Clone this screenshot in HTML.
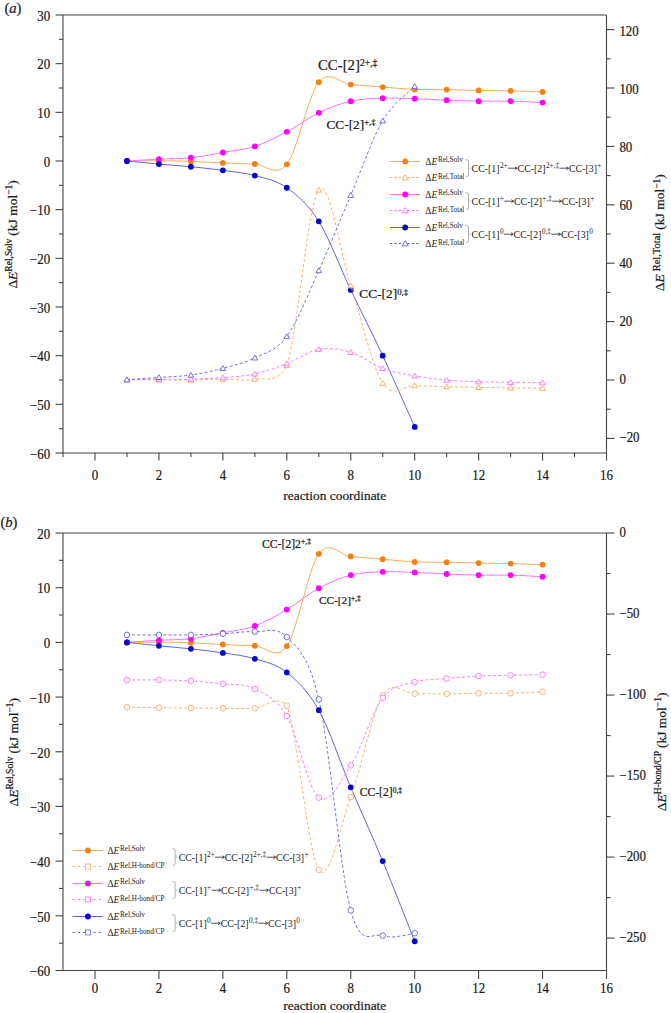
<!DOCTYPE html><html><head><meta charset="utf-8"><style>html,body{margin:0;padding:0;background:#fff;width:671px;height:1013px;overflow:hidden;position:relative} .b{stroke:#1a1a1a;stroke-width:0.22px;paint-order:stroke}</style></head><body><svg width="671" height="1013" viewBox="0 0 671 1013" style="position:absolute;left:0;top:0" font-family='"Liberation Serif", serif' fill="#1a1a1a">
<rect width="671" height="1013" fill="#fff"/>
<text x="4.40" y="12.50" font-size="14.60" text-anchor="start"  class="b">(<tspan font-style="italic">a</tspan>)</text>
<line x1="63.00" y1="15.00" x2="606.50" y2="15.00" stroke="#444" stroke-width="1.10"/>
<line x1="63.00" y1="453.00" x2="606.50" y2="453.00" stroke="#444" stroke-width="1.10"/>
<line x1="63.00" y1="15.00" x2="63.00" y2="453.00" stroke="#444" stroke-width="1.10"/>
<line x1="606.50" y1="15.00" x2="606.50" y2="453.00" stroke="#444" stroke-width="1.10"/>
<line x1="95.00" y1="453.00" x2="95.00" y2="460.50" stroke="#444" stroke-width="1.10"/>
<g transform="translate(95.00,479.60) scale(0.920,1)"><text class="b" x="0" y="0" font-size="14.00" text-anchor="middle">0</text></g>
<line x1="158.94" y1="453.00" x2="158.94" y2="460.50" stroke="#444" stroke-width="1.10"/>
<g transform="translate(158.94,479.60) scale(0.920,1)"><text class="b" x="0" y="0" font-size="14.00" text-anchor="middle">2</text></g>
<line x1="222.88" y1="453.00" x2="222.88" y2="460.50" stroke="#444" stroke-width="1.10"/>
<g transform="translate(222.88,479.60) scale(0.920,1)"><text class="b" x="0" y="0" font-size="14.00" text-anchor="middle">4</text></g>
<line x1="286.82" y1="453.00" x2="286.82" y2="460.50" stroke="#444" stroke-width="1.10"/>
<g transform="translate(286.82,479.60) scale(0.920,1)"><text class="b" x="0" y="0" font-size="14.00" text-anchor="middle">6</text></g>
<line x1="350.76" y1="453.00" x2="350.76" y2="460.50" stroke="#444" stroke-width="1.10"/>
<g transform="translate(350.76,479.60) scale(0.920,1)"><text class="b" x="0" y="0" font-size="14.00" text-anchor="middle">8</text></g>
<line x1="414.70" y1="453.00" x2="414.70" y2="460.50" stroke="#444" stroke-width="1.10"/>
<g transform="translate(414.70,479.60) scale(0.920,1)"><text class="b" x="0" y="0" font-size="14.00" text-anchor="middle">10</text></g>
<line x1="478.64" y1="453.00" x2="478.64" y2="460.50" stroke="#444" stroke-width="1.10"/>
<g transform="translate(478.64,479.60) scale(0.920,1)"><text class="b" x="0" y="0" font-size="14.00" text-anchor="middle">12</text></g>
<line x1="542.58" y1="453.00" x2="542.58" y2="460.50" stroke="#444" stroke-width="1.10"/>
<g transform="translate(542.58,479.60) scale(0.920,1)"><text class="b" x="0" y="0" font-size="14.00" text-anchor="middle">14</text></g>
<line x1="606.52" y1="453.00" x2="606.52" y2="460.50" stroke="#444" stroke-width="1.10"/>
<g transform="translate(606.52,479.60) scale(0.920,1)"><text class="b" x="0" y="0" font-size="14.00" text-anchor="middle">16</text></g>
<line x1="63.03" y1="453.00" x2="63.03" y2="457.00" stroke="#444" stroke-width="1.10"/>
<line x1="126.97" y1="453.00" x2="126.97" y2="457.00" stroke="#444" stroke-width="1.10"/>
<line x1="190.91" y1="453.00" x2="190.91" y2="457.00" stroke="#444" stroke-width="1.10"/>
<line x1="254.85" y1="453.00" x2="254.85" y2="457.00" stroke="#444" stroke-width="1.10"/>
<line x1="318.79" y1="453.00" x2="318.79" y2="457.00" stroke="#444" stroke-width="1.10"/>
<line x1="382.73" y1="453.00" x2="382.73" y2="457.00" stroke="#444" stroke-width="1.10"/>
<line x1="446.67" y1="453.00" x2="446.67" y2="457.00" stroke="#444" stroke-width="1.10"/>
<line x1="510.61" y1="453.00" x2="510.61" y2="457.00" stroke="#444" stroke-width="1.10"/>
<line x1="574.55" y1="453.00" x2="574.55" y2="457.00" stroke="#444" stroke-width="1.10"/>
<line x1="55.50" y1="453.00" x2="63.00" y2="453.00" stroke="#444" stroke-width="1.10"/>
<g transform="translate(50.20,458.80) scale(0.920,1)"><text class="b" x="0" y="0" font-size="14.00" text-anchor="end">−60</text></g>
<line x1="55.50" y1="404.33" x2="63.00" y2="404.33" stroke="#444" stroke-width="1.10"/>
<g transform="translate(50.20,410.13) scale(0.920,1)"><text class="b" x="0" y="0" font-size="14.00" text-anchor="end">−50</text></g>
<line x1="55.50" y1="355.67" x2="63.00" y2="355.67" stroke="#444" stroke-width="1.10"/>
<g transform="translate(50.20,361.47) scale(0.920,1)"><text class="b" x="0" y="0" font-size="14.00" text-anchor="end">−40</text></g>
<line x1="55.50" y1="307.00" x2="63.00" y2="307.00" stroke="#444" stroke-width="1.10"/>
<g transform="translate(50.20,312.80) scale(0.920,1)"><text class="b" x="0" y="0" font-size="14.00" text-anchor="end">−30</text></g>
<line x1="55.50" y1="258.33" x2="63.00" y2="258.33" stroke="#444" stroke-width="1.10"/>
<g transform="translate(50.20,264.13) scale(0.920,1)"><text class="b" x="0" y="0" font-size="14.00" text-anchor="end">−20</text></g>
<line x1="55.50" y1="209.67" x2="63.00" y2="209.67" stroke="#444" stroke-width="1.10"/>
<g transform="translate(50.20,215.47) scale(0.920,1)"><text class="b" x="0" y="0" font-size="14.00" text-anchor="end">−10</text></g>
<line x1="55.50" y1="161.00" x2="63.00" y2="161.00" stroke="#444" stroke-width="1.10"/>
<g transform="translate(50.20,166.80) scale(0.920,1)"><text class="b" x="0" y="0" font-size="14.00" text-anchor="end">0</text></g>
<line x1="55.50" y1="112.33" x2="63.00" y2="112.33" stroke="#444" stroke-width="1.10"/>
<g transform="translate(50.20,118.13) scale(0.920,1)"><text class="b" x="0" y="0" font-size="14.00" text-anchor="end">10</text></g>
<line x1="55.50" y1="63.67" x2="63.00" y2="63.67" stroke="#444" stroke-width="1.10"/>
<g transform="translate(50.20,69.47) scale(0.920,1)"><text class="b" x="0" y="0" font-size="14.00" text-anchor="end">20</text></g>
<line x1="55.50" y1="15.00" x2="63.00" y2="15.00" stroke="#444" stroke-width="1.10"/>
<g transform="translate(50.20,20.80) scale(0.920,1)"><text class="b" x="0" y="0" font-size="14.00" text-anchor="end">30</text></g>
<line x1="59.00" y1="428.67" x2="63.00" y2="428.67" stroke="#444" stroke-width="1.10"/>
<line x1="59.00" y1="380.00" x2="63.00" y2="380.00" stroke="#444" stroke-width="1.10"/>
<line x1="59.00" y1="331.33" x2="63.00" y2="331.33" stroke="#444" stroke-width="1.10"/>
<line x1="59.00" y1="282.67" x2="63.00" y2="282.67" stroke="#444" stroke-width="1.10"/>
<line x1="59.00" y1="234.00" x2="63.00" y2="234.00" stroke="#444" stroke-width="1.10"/>
<line x1="59.00" y1="185.33" x2="63.00" y2="185.33" stroke="#444" stroke-width="1.10"/>
<line x1="59.00" y1="136.67" x2="63.00" y2="136.67" stroke="#444" stroke-width="1.10"/>
<line x1="59.00" y1="88.00" x2="63.00" y2="88.00" stroke="#444" stroke-width="1.10"/>
<line x1="59.00" y1="39.33" x2="63.00" y2="39.33" stroke="#444" stroke-width="1.10"/>
<line x1="606.50" y1="438.40" x2="614.50" y2="438.40" stroke="#444" stroke-width="1.10"/>
<g transform="translate(619.40,441.71) scale(0.920,1)"><text class="b" x="0" y="0" font-size="14.00" text-anchor="start">−20</text></g>
<line x1="606.50" y1="380.00" x2="614.50" y2="380.00" stroke="#444" stroke-width="1.10"/>
<g transform="translate(619.40,383.70) scale(0.920,1)"><text class="b" x="0" y="0" font-size="14.00" text-anchor="start">0</text></g>
<line x1="606.50" y1="321.60" x2="614.50" y2="321.60" stroke="#444" stroke-width="1.10"/>
<g transform="translate(619.40,325.69) scale(0.920,1)"><text class="b" x="0" y="0" font-size="14.00" text-anchor="start">20</text></g>
<line x1="606.50" y1="263.20" x2="614.50" y2="263.20" stroke="#444" stroke-width="1.10"/>
<g transform="translate(619.40,267.68) scale(0.920,1)"><text class="b" x="0" y="0" font-size="14.00" text-anchor="start">40</text></g>
<line x1="606.50" y1="204.80" x2="614.50" y2="204.80" stroke="#444" stroke-width="1.10"/>
<g transform="translate(619.40,209.68) scale(0.920,1)"><text class="b" x="0" y="0" font-size="14.00" text-anchor="start">60</text></g>
<line x1="606.50" y1="146.40" x2="614.50" y2="146.40" stroke="#444" stroke-width="1.10"/>
<g transform="translate(619.40,151.67) scale(0.920,1)"><text class="b" x="0" y="0" font-size="14.00" text-anchor="start">80</text></g>
<line x1="606.50" y1="88.00" x2="614.50" y2="88.00" stroke="#444" stroke-width="1.10"/>
<g transform="translate(619.40,93.66) scale(0.920,1)"><text class="b" x="0" y="0" font-size="14.00" text-anchor="start">100</text></g>
<line x1="606.50" y1="29.60" x2="614.50" y2="29.60" stroke="#444" stroke-width="1.10"/>
<g transform="translate(619.40,35.65) scale(0.920,1)"><text class="b" x="0" y="0" font-size="14.00" text-anchor="start">120</text></g>
<line x1="606.50" y1="409.20" x2="610.50" y2="409.20" stroke="#444" stroke-width="1.10"/>
<line x1="606.50" y1="350.80" x2="610.50" y2="350.80" stroke="#444" stroke-width="1.10"/>
<line x1="606.50" y1="292.40" x2="610.50" y2="292.40" stroke="#444" stroke-width="1.10"/>
<line x1="606.50" y1="234.00" x2="610.50" y2="234.00" stroke="#444" stroke-width="1.10"/>
<line x1="606.50" y1="175.60" x2="610.50" y2="175.60" stroke="#444" stroke-width="1.10"/>
<line x1="606.50" y1="117.20" x2="610.50" y2="117.20" stroke="#444" stroke-width="1.10"/>
<line x1="606.50" y1="58.80" x2="610.50" y2="58.80" stroke="#444" stroke-width="1.10"/>
<text x="334.80" y="500.00" font-size="13.40" text-anchor="middle"  class="b">reaction coordinate</text>
<path d="M126.97,161.00 C132.30,160.96 148.28,160.69 158.94,160.76 C169.60,160.82 180.25,161.03 190.91,161.39 C201.57,161.75 212.22,162.46 222.88,162.90 C233.54,163.34 244.19,163.78 254.85,164.02 C265.51,164.25 276.16,177.95 286.82,164.31 C297.48,150.67 308.13,95.45 318.79,82.16 C329.45,68.87 340.10,83.78 350.76,84.59 C361.42,85.40 372.07,86.22 382.73,87.03 C393.39,87.84 404.04,89.03 414.70,89.46 C425.36,89.89 436.01,89.44 446.67,89.61 C457.33,89.77 467.98,90.21 478.64,90.43 C489.30,90.65 499.95,90.68 510.61,90.92 C521.27,91.16 537.25,91.73 542.58,91.89" fill="none" stroke="#f8ac5e" stroke-width="1.00"/>
<circle cx="126.97" cy="161.00" r="2.90" fill="#f5800f"/>
<circle cx="158.94" cy="160.76" r="2.90" fill="#f5800f"/>
<circle cx="190.91" cy="161.39" r="2.90" fill="#f5800f"/>
<circle cx="222.88" cy="162.90" r="2.90" fill="#f5800f"/>
<circle cx="254.85" cy="164.02" r="2.90" fill="#f5800f"/>
<circle cx="286.82" cy="164.31" r="2.90" fill="#f5800f"/>
<circle cx="318.79" cy="82.16" r="2.90" fill="#f5800f"/>
<circle cx="350.76" cy="84.59" r="2.90" fill="#f5800f"/>
<circle cx="382.73" cy="87.03" r="2.90" fill="#f5800f"/>
<circle cx="414.70" cy="89.46" r="2.90" fill="#f5800f"/>
<circle cx="446.67" cy="89.61" r="2.90" fill="#f5800f"/>
<circle cx="478.64" cy="90.43" r="2.90" fill="#f5800f"/>
<circle cx="510.61" cy="90.92" r="2.90" fill="#f5800f"/>
<circle cx="542.58" cy="91.89" r="2.90" fill="#f5800f"/>
<path d="M126.97,161.00 C132.30,160.69 148.28,159.70 158.94,159.15 C169.60,158.60 180.25,158.80 190.91,157.69 C201.57,156.58 212.22,154.37 222.88,152.48 C233.54,150.60 244.19,149.85 254.85,146.40 C265.51,142.95 276.16,137.40 286.82,131.80 C297.48,126.20 308.13,117.93 318.79,112.82 C329.45,107.71 340.10,103.57 350.76,101.14 C361.42,98.71 372.07,98.63 382.73,98.22 C393.39,97.81 404.04,98.38 414.70,98.71 C425.36,99.03 436.01,99.76 446.67,100.17 C457.33,100.57 467.98,100.98 478.64,101.14 C489.30,101.30 499.95,100.90 510.61,101.14 C521.27,101.38 537.25,102.36 542.58,102.60" fill="none" stroke="#ff6eff" stroke-width="1.00"/>
<circle cx="126.97" cy="161.00" r="2.90" fill="#ff00ff"/>
<circle cx="158.94" cy="159.15" r="2.90" fill="#ff00ff"/>
<circle cx="190.91" cy="157.69" r="2.90" fill="#ff00ff"/>
<circle cx="222.88" cy="152.48" r="2.90" fill="#ff00ff"/>
<circle cx="254.85" cy="146.40" r="2.90" fill="#ff00ff"/>
<circle cx="286.82" cy="131.80" r="2.90" fill="#ff00ff"/>
<circle cx="318.79" cy="112.82" r="2.90" fill="#ff00ff"/>
<circle cx="350.76" cy="101.14" r="2.90" fill="#ff00ff"/>
<circle cx="382.73" cy="98.22" r="2.90" fill="#ff00ff"/>
<circle cx="414.70" cy="98.71" r="2.90" fill="#ff00ff"/>
<circle cx="446.67" cy="100.17" r="2.90" fill="#ff00ff"/>
<circle cx="478.64" cy="101.14" r="2.90" fill="#ff00ff"/>
<circle cx="510.61" cy="101.14" r="2.90" fill="#ff00ff"/>
<circle cx="542.58" cy="102.60" r="2.90" fill="#ff00ff"/>
<path d="M126.97,161.00 C132.30,161.51 148.28,163.11 158.94,164.07 C169.60,165.02 180.25,165.70 190.91,166.74 C201.57,167.79 212.22,168.87 222.88,170.34 C233.54,171.82 244.19,172.70 254.85,175.60 C265.51,178.50 276.16,180.14 286.82,187.77 C297.48,195.39 308.13,204.31 318.79,221.35 C329.45,238.38 340.10,267.58 350.76,289.97 C361.42,312.35 372.07,332.84 382.73,355.67 C393.39,378.50 409.37,415.08 414.70,426.97" fill="none" stroke="#6464dc" stroke-width="1.00"/>
<circle cx="126.97" cy="161.00" r="2.90" fill="#0808c8"/>
<circle cx="158.94" cy="164.07" r="2.90" fill="#0808c8"/>
<circle cx="190.91" cy="166.74" r="2.90" fill="#0808c8"/>
<circle cx="222.88" cy="170.34" r="2.90" fill="#0808c8"/>
<circle cx="254.85" cy="175.60" r="2.90" fill="#0808c8"/>
<circle cx="286.82" cy="187.77" r="2.90" fill="#0808c8"/>
<circle cx="318.79" cy="221.35" r="2.90" fill="#0808c8"/>
<circle cx="350.76" cy="289.97" r="2.90" fill="#0808c8"/>
<circle cx="382.73" cy="355.67" r="2.90" fill="#0808c8"/>
<circle cx="414.70" cy="426.97" r="2.90" fill="#0808c8"/>
<path d="M126.97,379.71 C132.30,379.76 148.28,379.95 158.94,380.00 C169.60,380.05 180.25,380.15 190.91,380.00 C201.57,379.85 212.22,379.27 222.88,379.12 C233.54,378.98 244.19,381.41 254.85,379.12 C265.51,376.84 276.16,384.87 286.82,365.40 C297.48,333.86 308.13,203.19 318.79,189.91 C329.45,176.62 340.10,253.47 350.76,285.68 C361.42,317.90 372.07,366.57 382.73,383.21 C393.39,399.86 404.04,384.96 414.70,385.55 C425.36,386.13 436.01,386.42 446.67,386.72 C457.33,387.01 467.98,387.11 478.64,387.30 C489.30,387.49 499.95,387.74 510.61,387.88 C521.27,388.03 537.25,388.13 542.58,388.18" fill="none" stroke="#f8ac5e" stroke-width="0.90" stroke-dasharray="3,2.2"/>
<path d="M126.97,377.05 L129.92,381.89 L124.02,381.89 Z" fill="#fff" stroke="#f8ac5e" stroke-width="0.90"/>
<path d="M158.94,377.34 L161.89,382.18 L155.99,382.18 Z" fill="#fff" stroke="#f8ac5e" stroke-width="0.90"/>
<path d="M190.91,377.34 L193.86,382.18 L187.96,382.18 Z" fill="#fff" stroke="#f8ac5e" stroke-width="0.90"/>
<path d="M222.88,376.46 L225.83,381.30 L219.93,381.30 Z" fill="#fff" stroke="#f8ac5e" stroke-width="0.90"/>
<path d="M254.85,376.46 L257.80,381.30 L251.90,381.30 Z" fill="#fff" stroke="#f8ac5e" stroke-width="0.90"/>
<path d="M286.82,362.74 L289.77,367.58 L283.87,367.58 Z" fill="#fff" stroke="#f8ac5e" stroke-width="0.90"/>
<path d="M318.79,187.25 L321.74,192.09 L315.84,192.09 Z" fill="#fff" stroke="#f8ac5e" stroke-width="0.90"/>
<path d="M350.76,283.02 L353.71,287.86 L347.81,287.86 Z" fill="#fff" stroke="#f8ac5e" stroke-width="0.90"/>
<path d="M382.73,380.55 L385.68,385.39 L379.78,385.39 Z" fill="#fff" stroke="#f8ac5e" stroke-width="0.90"/>
<path d="M414.70,382.89 L417.65,387.73 L411.75,387.73 Z" fill="#fff" stroke="#f8ac5e" stroke-width="0.90"/>
<path d="M446.67,384.06 L449.62,388.89 L443.72,388.89 Z" fill="#fff" stroke="#f8ac5e" stroke-width="0.90"/>
<path d="M478.64,384.64 L481.59,389.48 L475.69,389.48 Z" fill="#fff" stroke="#f8ac5e" stroke-width="0.90"/>
<path d="M510.61,385.22 L513.56,390.06 L507.66,390.06 Z" fill="#fff" stroke="#f8ac5e" stroke-width="0.90"/>
<path d="M542.58,385.52 L545.53,390.35 L539.63,390.35 Z" fill="#fff" stroke="#f8ac5e" stroke-width="0.90"/>
<path d="M126.97,379.71 C132.30,379.61 148.28,379.22 158.94,379.12 C169.60,379.03 180.25,379.37 190.91,379.12 C201.57,378.88 212.22,378.54 222.88,377.66 C233.54,376.79 244.19,376.20 254.85,373.87 C265.51,371.53 276.16,367.74 286.82,363.65 C297.48,359.56 308.13,351.24 318.79,349.34 C329.45,347.44 340.10,349.10 350.76,352.26 C361.42,355.42 372.07,364.38 382.73,368.32 C393.39,372.26 404.04,373.97 414.70,375.91 C425.36,377.86 436.01,379.03 446.67,380.00 C457.33,380.97 467.98,381.36 478.64,381.75 C489.30,382.14 499.95,382.19 510.61,382.34 C521.27,382.48 537.25,382.58 542.58,382.63" fill="none" stroke="#ff6eff" stroke-width="0.90" stroke-dasharray="3,2.2"/>
<path d="M126.97,377.05 L129.92,381.89 L124.02,381.89 Z" fill="#fff" stroke="#ff6eff" stroke-width="0.90"/>
<path d="M158.94,376.46 L161.89,381.30 L155.99,381.30 Z" fill="#fff" stroke="#ff6eff" stroke-width="0.90"/>
<path d="M190.91,376.46 L193.86,381.30 L187.96,381.30 Z" fill="#fff" stroke="#ff6eff" stroke-width="0.90"/>
<path d="M222.88,375.00 L225.83,379.84 L219.93,379.84 Z" fill="#fff" stroke="#ff6eff" stroke-width="0.90"/>
<path d="M254.85,371.21 L257.80,376.05 L251.90,376.05 Z" fill="#fff" stroke="#ff6eff" stroke-width="0.90"/>
<path d="M286.82,360.99 L289.77,365.83 L283.87,365.83 Z" fill="#fff" stroke="#ff6eff" stroke-width="0.90"/>
<path d="M318.79,346.68 L321.74,351.52 L315.84,351.52 Z" fill="#fff" stroke="#ff6eff" stroke-width="0.90"/>
<path d="M350.76,349.60 L353.71,354.44 L347.81,354.44 Z" fill="#fff" stroke="#ff6eff" stroke-width="0.90"/>
<path d="M382.73,365.66 L385.68,370.50 L379.78,370.50 Z" fill="#fff" stroke="#ff6eff" stroke-width="0.90"/>
<path d="M414.70,373.25 L417.65,378.09 L411.75,378.09 Z" fill="#fff" stroke="#ff6eff" stroke-width="0.90"/>
<path d="M446.67,377.34 L449.62,382.18 L443.72,382.18 Z" fill="#fff" stroke="#ff6eff" stroke-width="0.90"/>
<path d="M478.64,379.09 L481.59,383.93 L475.69,383.93 Z" fill="#fff" stroke="#ff6eff" stroke-width="0.90"/>
<path d="M510.61,379.68 L513.56,384.51 L507.66,384.51 Z" fill="#fff" stroke="#ff6eff" stroke-width="0.90"/>
<path d="M542.58,379.97 L545.53,384.81 L539.63,384.81 Z" fill="#fff" stroke="#ff6eff" stroke-width="0.90"/>
<path d="M126.97,379.71 C132.30,379.32 148.28,378.15 158.94,377.37 C169.60,376.59 180.25,376.54 190.91,375.04 C201.57,373.53 212.22,371.19 222.88,368.32 C233.54,365.45 244.19,363.11 254.85,357.81 C265.51,352.50 276.16,351.04 286.82,336.49 C297.48,321.94 308.13,294.05 318.79,270.50 C329.45,246.95 340.10,220.13 350.76,195.16 C361.42,170.20 372.07,138.86 382.73,120.70 C393.39,102.55 409.37,91.99 414.70,86.25" fill="none" stroke="#6464dc" stroke-width="0.90" stroke-dasharray="3,2.2"/>
<path d="M126.97,377.05 L129.92,381.89 L124.02,381.89 Z" fill="#fff" stroke="#6464dc" stroke-width="0.90"/>
<path d="M158.94,374.71 L161.89,379.55 L155.99,379.55 Z" fill="#fff" stroke="#6464dc" stroke-width="0.90"/>
<path d="M190.91,372.38 L193.86,377.21 L187.96,377.21 Z" fill="#fff" stroke="#6464dc" stroke-width="0.90"/>
<path d="M222.88,365.66 L225.83,370.50 L219.93,370.50 Z" fill="#fff" stroke="#6464dc" stroke-width="0.90"/>
<path d="M254.85,355.15 L257.80,359.99 L251.90,359.99 Z" fill="#fff" stroke="#6464dc" stroke-width="0.90"/>
<path d="M286.82,333.83 L289.77,338.67 L283.87,338.67 Z" fill="#fff" stroke="#6464dc" stroke-width="0.90"/>
<path d="M318.79,267.84 L321.74,272.68 L315.84,272.68 Z" fill="#fff" stroke="#6464dc" stroke-width="0.90"/>
<path d="M350.76,192.50 L353.71,197.34 L347.81,197.34 Z" fill="#fff" stroke="#6464dc" stroke-width="0.90"/>
<path d="M382.73,118.04 L385.68,122.88 L379.78,122.88 Z" fill="#fff" stroke="#6464dc" stroke-width="0.90"/>
<path d="M414.70,83.59 L417.65,88.43 L411.75,88.43 Z" fill="#fff" stroke="#6464dc" stroke-width="0.90"/>
<line x1="389.90" y1="161.50" x2="420.00" y2="161.50" stroke="#f8ac5e" stroke-width="1.00"/>
<circle cx="405.20" cy="161.50" r="2.90" fill="#f5800f"/>
<line x1="389.90" y1="177.50" x2="420.00" y2="177.50" stroke="#f8ac5e" stroke-width="1" stroke-dasharray="2.4,2"/>
<path d="M405.20,174.61 L408.40,179.86 L402.00,179.86 Z" fill="#fff" stroke="#f8ac5e" stroke-width="0.90"/>
<text x="425.30" y="164.80" font-size="9.50">Δ<tspan font-style="italic">E</tspan></text>
<text x="437.90" y="162.30" font-size="7.20">Rel,Solv</text>
<text x="425.30" y="181.20" font-size="9.50">Δ<tspan font-style="italic">E</tspan></text>
<text x="437.90" y="178.70" font-size="7.20">Rel,Total</text>
<path d="M465.50,159.50 L468.50,160.50 V175.70 L465.90,176.70 M468.50,168.10 H470.50" fill="none" stroke="#aaa" stroke-width="0.9"/>
<text x="471.60" y="171.70" font-size="9.90">CC-[1]</text>
<text x="499.95" y="168.30" font-size="7.20">2+</text>
<path d="M508.01,168.20 H517.21 M515.01,166.70 L517.21,168.20 L515.01,169.70" fill="none" stroke="#1a1a1a" stroke-width="0.75"/>
<text x="517.61" y="171.70" font-size="9.90">CC-[2]</text>
<text x="545.95" y="168.30" font-size="7.20">2+,‡</text>
<path d="M559.41,168.20 H568.61 M566.41,166.70 L568.61,168.20 L566.41,169.70" fill="none" stroke="#1a1a1a" stroke-width="0.75"/>
<text x="569.01" y="171.70" font-size="9.90">CC-[3]</text>
<text x="597.36" y="168.30" font-size="7.20">+</text>
<line x1="389.90" y1="194.50" x2="420.00" y2="194.50" stroke="#ff6eff" stroke-width="1.00"/>
<circle cx="405.20" cy="194.50" r="2.90" fill="#ff00ff"/>
<line x1="389.90" y1="210.50" x2="420.00" y2="210.50" stroke="#ff6eff" stroke-width="1" stroke-dasharray="2.4,2"/>
<path d="M405.20,207.61 L408.40,212.86 L402.00,212.86 Z" fill="#fff" stroke="#ff6eff" stroke-width="0.90"/>
<text x="425.30" y="197.80" font-size="9.50">Δ<tspan font-style="italic">E</tspan></text>
<text x="437.90" y="195.30" font-size="7.20">Rel,Solv</text>
<text x="425.30" y="214.20" font-size="9.50">Δ<tspan font-style="italic">E</tspan></text>
<text x="437.90" y="211.70" font-size="7.20">Rel,Total</text>
<path d="M465.50,192.50 L468.50,193.50 V208.70 L465.90,209.70 M468.50,201.10 H470.50" fill="none" stroke="#aaa" stroke-width="0.9"/>
<text x="471.60" y="204.70" font-size="9.90">CC-[1]</text>
<text x="499.95" y="201.30" font-size="7.20">+</text>
<path d="M504.41,201.20 H513.61 M511.41,199.70 L513.61,201.20 L511.41,202.70" fill="none" stroke="#1a1a1a" stroke-width="0.75"/>
<text x="514.01" y="204.70" font-size="9.90">CC-[2]</text>
<text x="542.35" y="201.30" font-size="7.20">+,‡</text>
<path d="M552.21,201.20 H561.41 M559.21,199.70 L561.41,201.20 L559.21,202.70" fill="none" stroke="#1a1a1a" stroke-width="0.75"/>
<text x="561.81" y="204.70" font-size="9.90">CC-[3]</text>
<text x="590.16" y="201.30" font-size="7.20">+</text>
<line x1="389.90" y1="227.50" x2="420.00" y2="227.50" stroke="#6464dc" stroke-width="1.00"/>
<circle cx="405.20" cy="227.50" r="2.90" fill="#0808c8"/>
<line x1="389.90" y1="243.50" x2="420.00" y2="243.50" stroke="#6464dc" stroke-width="1" stroke-dasharray="2.4,2"/>
<path d="M405.20,240.61 L408.40,245.86 L402.00,245.86 Z" fill="#fff" stroke="#6464dc" stroke-width="0.90"/>
<text x="425.30" y="230.80" font-size="9.50">Δ<tspan font-style="italic">E</tspan></text>
<text x="437.90" y="228.30" font-size="7.20">Rel,Solv</text>
<text x="425.30" y="247.20" font-size="9.50">Δ<tspan font-style="italic">E</tspan></text>
<text x="437.90" y="244.70" font-size="7.20">Rel,Total</text>
<path d="M465.50,225.50 L468.50,226.50 V241.70 L465.90,242.70 M468.50,234.10 H470.50" fill="none" stroke="#aaa" stroke-width="0.9"/>
<text x="471.60" y="237.70" font-size="9.90">CC-[1]</text>
<text x="499.95" y="234.30" font-size="7.20">0</text>
<path d="M503.95,234.20 H513.15 M510.95,232.70 L513.15,234.20 L510.95,235.70" fill="none" stroke="#1a1a1a" stroke-width="0.75"/>
<text x="513.55" y="237.70" font-size="9.90">CC-[2]</text>
<text x="541.89" y="234.30" font-size="7.20">0,‡</text>
<path d="M551.29,234.20 H560.49 M558.29,232.70 L560.49,234.20 L558.29,235.70" fill="none" stroke="#1a1a1a" stroke-width="0.75"/>
<text x="560.89" y="237.70" font-size="9.90">CC-[3]</text>
<text x="589.24" y="234.30" font-size="7.20">0</text>
<text class="b" transform="translate(17.20,288.60) rotate(-90)" x="0" y="0" font-size="13.50">Δ<tspan font-style="italic">E</tspan><tspan font-size="9.50" dx="0.00" dy="-4.80">Rel,Solv</tspan><tspan dx="3.00" dy="4.80">(kJ mol</tspan><tspan font-size="9.50" dy="-4.80">−1</tspan><tspan dy="4.80">)</tspan></text>
<text class="b" transform="translate(664.30,291.30) rotate(-90)" x="0" y="0" font-size="13.50">Δ<tspan font-style="italic">E</tspan><tspan font-size="10.50" dx="3.00" dy="-4.50">Rel,Total</tspan><tspan dx="3.00" dy="4.50">(kJ mol</tspan><tspan font-size="9.50" dy="-4.50">−1</tspan><tspan dy="4.50">)</tspan></text>
<text class="b" x="318.00" y="70.00" font-size="14.80">CC-[2]<tspan font-size="9.62" dy="-4.00">2+,‡</tspan></text>
<text class="b" x="326.50" y="128.80" font-size="13.30">CC-[2]<tspan font-size="8.65" dy="-3.59">+,‡</tspan></text>
<text class="b" x="359.30" y="298.30" font-size="13.40">CC-[2]<tspan font-size="8.71" dy="-3.62">0,‡</tspan></text>
<text x="0.40" y="526.80" font-size="14.60" text-anchor="start"  class="b">(<tspan font-style="italic">b</tspan>)</text>
<line x1="63.00" y1="533.00" x2="606.50" y2="533.00" stroke="#444" stroke-width="1.10"/>
<line x1="63.00" y1="970.50" x2="606.50" y2="970.50" stroke="#444" stroke-width="1.10"/>
<line x1="63.00" y1="533.00" x2="63.00" y2="970.50" stroke="#444" stroke-width="1.10"/>
<line x1="606.50" y1="533.00" x2="606.50" y2="970.50" stroke="#444" stroke-width="1.10"/>
<line x1="95.00" y1="970.50" x2="95.00" y2="978.90" stroke="#444" stroke-width="1.10"/>
<g transform="translate(95.00,992.90) scale(0.920,1)"><text class="b" x="0" y="0" font-size="14.00" text-anchor="middle">0</text></g>
<line x1="158.94" y1="970.50" x2="158.94" y2="978.90" stroke="#444" stroke-width="1.10"/>
<g transform="translate(158.94,992.90) scale(0.920,1)"><text class="b" x="0" y="0" font-size="14.00" text-anchor="middle">2</text></g>
<line x1="222.88" y1="970.50" x2="222.88" y2="978.90" stroke="#444" stroke-width="1.10"/>
<g transform="translate(222.88,992.90) scale(0.920,1)"><text class="b" x="0" y="0" font-size="14.00" text-anchor="middle">4</text></g>
<line x1="286.82" y1="970.50" x2="286.82" y2="978.90" stroke="#444" stroke-width="1.10"/>
<g transform="translate(286.82,992.90) scale(0.920,1)"><text class="b" x="0" y="0" font-size="14.00" text-anchor="middle">6</text></g>
<line x1="350.76" y1="970.50" x2="350.76" y2="978.90" stroke="#444" stroke-width="1.10"/>
<g transform="translate(350.76,992.90) scale(0.920,1)"><text class="b" x="0" y="0" font-size="14.00" text-anchor="middle">8</text></g>
<line x1="414.70" y1="970.50" x2="414.70" y2="978.90" stroke="#444" stroke-width="1.10"/>
<g transform="translate(414.70,992.90) scale(0.920,1)"><text class="b" x="0" y="0" font-size="14.00" text-anchor="middle">10</text></g>
<line x1="478.64" y1="970.50" x2="478.64" y2="978.90" stroke="#444" stroke-width="1.10"/>
<g transform="translate(478.64,992.90) scale(0.920,1)"><text class="b" x="0" y="0" font-size="14.00" text-anchor="middle">12</text></g>
<line x1="542.58" y1="970.50" x2="542.58" y2="978.90" stroke="#444" stroke-width="1.10"/>
<g transform="translate(542.58,992.90) scale(0.920,1)"><text class="b" x="0" y="0" font-size="14.00" text-anchor="middle">14</text></g>
<line x1="606.52" y1="970.50" x2="606.52" y2="978.90" stroke="#444" stroke-width="1.10"/>
<g transform="translate(606.52,992.90) scale(0.920,1)"><text class="b" x="0" y="0" font-size="14.00" text-anchor="middle">16</text></g>
<line x1="55.50" y1="970.50" x2="63.00" y2="970.50" stroke="#444" stroke-width="1.10"/>
<g transform="translate(50.20,976.30) scale(0.920,1)"><text class="b" x="0" y="0" font-size="14.00" text-anchor="end">−60</text></g>
<line x1="55.50" y1="915.81" x2="63.00" y2="915.81" stroke="#444" stroke-width="1.10"/>
<g transform="translate(50.20,921.61) scale(0.920,1)"><text class="b" x="0" y="0" font-size="14.00" text-anchor="end">−50</text></g>
<line x1="55.50" y1="861.12" x2="63.00" y2="861.12" stroke="#444" stroke-width="1.10"/>
<g transform="translate(50.20,866.92) scale(0.920,1)"><text class="b" x="0" y="0" font-size="14.00" text-anchor="end">−40</text></g>
<line x1="55.50" y1="806.44" x2="63.00" y2="806.44" stroke="#444" stroke-width="1.10"/>
<g transform="translate(50.20,812.24) scale(0.920,1)"><text class="b" x="0" y="0" font-size="14.00" text-anchor="end">−30</text></g>
<line x1="55.50" y1="751.75" x2="63.00" y2="751.75" stroke="#444" stroke-width="1.10"/>
<g transform="translate(50.20,757.55) scale(0.920,1)"><text class="b" x="0" y="0" font-size="14.00" text-anchor="end">−20</text></g>
<line x1="55.50" y1="697.06" x2="63.00" y2="697.06" stroke="#444" stroke-width="1.10"/>
<g transform="translate(50.20,702.86) scale(0.920,1)"><text class="b" x="0" y="0" font-size="14.00" text-anchor="end">−10</text></g>
<line x1="55.50" y1="642.38" x2="63.00" y2="642.38" stroke="#444" stroke-width="1.10"/>
<g transform="translate(50.20,648.17) scale(0.920,1)"><text class="b" x="0" y="0" font-size="14.00" text-anchor="end">0</text></g>
<line x1="55.50" y1="587.69" x2="63.00" y2="587.69" stroke="#444" stroke-width="1.10"/>
<g transform="translate(50.20,593.49) scale(0.920,1)"><text class="b" x="0" y="0" font-size="14.00" text-anchor="end">10</text></g>
<line x1="55.50" y1="533.00" x2="63.00" y2="533.00" stroke="#444" stroke-width="1.10"/>
<g transform="translate(50.20,538.80) scale(0.920,1)"><text class="b" x="0" y="0" font-size="14.00" text-anchor="end">20</text></g>
<line x1="59.00" y1="943.16" x2="63.00" y2="943.16" stroke="#444" stroke-width="1.10"/>
<line x1="59.00" y1="888.47" x2="63.00" y2="888.47" stroke="#444" stroke-width="1.10"/>
<line x1="59.00" y1="833.78" x2="63.00" y2="833.78" stroke="#444" stroke-width="1.10"/>
<line x1="59.00" y1="779.09" x2="63.00" y2="779.09" stroke="#444" stroke-width="1.10"/>
<line x1="59.00" y1="724.41" x2="63.00" y2="724.41" stroke="#444" stroke-width="1.10"/>
<line x1="59.00" y1="669.72" x2="63.00" y2="669.72" stroke="#444" stroke-width="1.10"/>
<line x1="59.00" y1="615.03" x2="63.00" y2="615.03" stroke="#444" stroke-width="1.10"/>
<line x1="59.00" y1="560.34" x2="63.00" y2="560.34" stroke="#444" stroke-width="1.10"/>
<line x1="606.50" y1="938.10" x2="614.50" y2="938.10" stroke="#444" stroke-width="1.10"/>
<g transform="translate(619.40,942.10) scale(0.920,1)"><text class="b" x="0" y="0" font-size="14.00" text-anchor="start">−250</text></g>
<line x1="606.50" y1="857.08" x2="614.50" y2="857.08" stroke="#444" stroke-width="1.10"/>
<g transform="translate(619.40,861.08) scale(0.920,1)"><text class="b" x="0" y="0" font-size="14.00" text-anchor="start">−200</text></g>
<line x1="606.50" y1="776.06" x2="614.50" y2="776.06" stroke="#444" stroke-width="1.10"/>
<g transform="translate(619.40,780.06) scale(0.920,1)"><text class="b" x="0" y="0" font-size="14.00" text-anchor="start">−150</text></g>
<line x1="606.50" y1="695.04" x2="614.50" y2="695.04" stroke="#444" stroke-width="1.10"/>
<g transform="translate(619.40,699.04) scale(0.920,1)"><text class="b" x="0" y="0" font-size="14.00" text-anchor="start">−100</text></g>
<line x1="606.50" y1="614.02" x2="614.50" y2="614.02" stroke="#444" stroke-width="1.10"/>
<g transform="translate(619.40,618.02) scale(0.920,1)"><text class="b" x="0" y="0" font-size="14.00" text-anchor="start">−50</text></g>
<line x1="606.50" y1="533.00" x2="614.50" y2="533.00" stroke="#444" stroke-width="1.10"/>
<g transform="translate(619.40,537.00) scale(0.920,1)"><text class="b" x="0" y="0" font-size="14.00" text-anchor="start">0</text></g>
<line x1="606.50" y1="897.59" x2="610.50" y2="897.59" stroke="#444" stroke-width="1.10"/>
<line x1="606.50" y1="816.57" x2="610.50" y2="816.57" stroke="#444" stroke-width="1.10"/>
<line x1="606.50" y1="735.55" x2="610.50" y2="735.55" stroke="#444" stroke-width="1.10"/>
<line x1="606.50" y1="654.53" x2="610.50" y2="654.53" stroke="#444" stroke-width="1.10"/>
<line x1="606.50" y1="573.51" x2="610.50" y2="573.51" stroke="#444" stroke-width="1.10"/>
<text x="334.80" y="1010.30" font-size="13.40" text-anchor="middle"  class="b">reaction coordinate</text>
<path d="M126.97,642.38 C132.30,642.33 148.28,642.03 158.94,642.10 C169.60,642.17 180.25,642.41 190.91,642.81 C201.57,643.21 212.22,644.02 222.88,644.51 C233.54,645.00 244.19,645.50 254.85,645.77 C265.51,646.03 276.16,661.42 286.82,646.09 C297.48,630.76 308.13,568.71 318.79,553.78 C329.45,538.85 340.10,555.60 350.76,556.52 C361.42,557.43 372.07,558.34 382.73,559.25 C393.39,560.16 404.04,561.50 414.70,561.98 C425.36,562.47 436.01,561.97 446.67,562.15 C457.33,562.33 467.98,562.83 478.64,563.08 C489.30,563.32 499.95,563.35 510.61,563.62 C521.27,563.90 537.25,564.54 542.58,564.72" fill="none" stroke="#f8ac5e" stroke-width="1.00"/>
<circle cx="126.97" cy="642.38" r="2.90" fill="#f5800f"/>
<circle cx="158.94" cy="642.10" r="2.90" fill="#f5800f"/>
<circle cx="190.91" cy="642.81" r="2.90" fill="#f5800f"/>
<circle cx="222.88" cy="644.51" r="2.90" fill="#f5800f"/>
<circle cx="254.85" cy="645.77" r="2.90" fill="#f5800f"/>
<circle cx="286.82" cy="646.09" r="2.90" fill="#f5800f"/>
<circle cx="318.79" cy="553.78" r="2.90" fill="#f5800f"/>
<circle cx="350.76" cy="556.52" r="2.90" fill="#f5800f"/>
<circle cx="382.73" cy="559.25" r="2.90" fill="#f5800f"/>
<circle cx="414.70" cy="561.98" r="2.90" fill="#f5800f"/>
<circle cx="446.67" cy="562.15" r="2.90" fill="#f5800f"/>
<circle cx="478.64" cy="563.08" r="2.90" fill="#f5800f"/>
<circle cx="510.61" cy="563.62" r="2.90" fill="#f5800f"/>
<circle cx="542.58" cy="564.72" r="2.90" fill="#f5800f"/>
<path d="M126.97,642.38 C132.30,642.03 148.28,640.92 158.94,640.30 C169.60,639.68 180.25,639.90 190.91,638.66 C201.57,637.41 212.22,634.92 222.88,632.80 C233.54,630.69 244.19,629.84 254.85,625.97 C265.51,622.10 276.16,615.85 286.82,609.56 C297.48,603.27 308.13,593.98 318.79,588.23 C329.45,582.49 340.10,577.84 350.76,575.11 C361.42,572.38 372.07,572.28 382.73,571.83 C393.39,571.37 404.04,572.01 414.70,572.38 C425.36,572.74 436.01,573.56 446.67,574.02 C457.33,574.47 467.98,574.93 478.64,575.11 C489.30,575.29 499.95,574.84 510.61,575.11 C521.27,575.38 537.25,576.48 542.58,576.75" fill="none" stroke="#ff6eff" stroke-width="1.00"/>
<circle cx="126.97" cy="642.38" r="2.90" fill="#ff00ff"/>
<circle cx="158.94" cy="640.30" r="2.90" fill="#ff00ff"/>
<circle cx="190.91" cy="638.66" r="2.90" fill="#ff00ff"/>
<circle cx="222.88" cy="632.80" r="2.90" fill="#ff00ff"/>
<circle cx="254.85" cy="625.97" r="2.90" fill="#ff00ff"/>
<circle cx="286.82" cy="609.56" r="2.90" fill="#ff00ff"/>
<circle cx="318.79" cy="588.23" r="2.90" fill="#ff00ff"/>
<circle cx="350.76" cy="575.11" r="2.90" fill="#ff00ff"/>
<circle cx="382.73" cy="571.83" r="2.90" fill="#ff00ff"/>
<circle cx="414.70" cy="572.38" r="2.90" fill="#ff00ff"/>
<circle cx="446.67" cy="574.02" r="2.90" fill="#ff00ff"/>
<circle cx="478.64" cy="575.11" r="2.90" fill="#ff00ff"/>
<circle cx="510.61" cy="575.11" r="2.90" fill="#ff00ff"/>
<circle cx="542.58" cy="576.75" r="2.90" fill="#ff00ff"/>
<path d="M126.97,642.38 C132.30,642.95 148.28,644.74 158.94,645.82 C169.60,646.90 180.25,647.65 190.91,648.83 C201.57,650.00 212.22,651.22 222.88,652.88 C233.54,654.53 244.19,655.52 254.85,658.78 C265.51,662.04 276.16,663.89 286.82,672.45 C297.48,681.02 308.13,691.05 318.79,710.19 C329.45,729.33 340.10,762.14 350.76,787.30 C361.42,812.45 372.07,835.47 382.73,861.12 C393.39,886.78 409.37,927.89 414.70,941.24" fill="none" stroke="#6464dc" stroke-width="1.00"/>
<circle cx="126.97" cy="642.38" r="2.90" fill="#0808c8"/>
<circle cx="158.94" cy="645.82" r="2.90" fill="#0808c8"/>
<circle cx="190.91" cy="648.83" r="2.90" fill="#0808c8"/>
<circle cx="222.88" cy="652.88" r="2.90" fill="#0808c8"/>
<circle cx="254.85" cy="658.78" r="2.90" fill="#0808c8"/>
<circle cx="286.82" cy="672.45" r="2.90" fill="#0808c8"/>
<circle cx="318.79" cy="710.19" r="2.90" fill="#0808c8"/>
<circle cx="350.76" cy="787.30" r="2.90" fill="#0808c8"/>
<circle cx="382.73" cy="861.12" r="2.90" fill="#0808c8"/>
<circle cx="414.70" cy="941.24" r="2.90" fill="#0808c8"/>
<path d="M126.97,707.19 C132.30,707.27 148.28,707.54 158.94,707.68 C169.60,707.81 180.25,707.90 190.91,708.00 C201.57,708.11 212.22,708.27 222.88,708.33 C233.54,708.38 244.19,708.79 254.85,708.33 C265.51,707.87 276.16,693.69 286.82,705.57 C297.48,732.50 308.13,854.65 318.79,869.88 C329.45,885.11 340.10,826.02 350.76,796.96 C361.42,767.90 372.07,712.73 382.73,695.53 C393.39,678.32 404.04,694.01 414.70,693.74 C425.36,693.47 436.01,693.99 446.67,693.91 C457.33,693.82 467.98,693.37 478.64,693.26 C489.30,693.15 499.95,693.50 510.61,693.26 C521.27,693.01 537.25,692.04 542.58,691.80" fill="none" stroke="#f8ac5e" stroke-width="0.90" stroke-dasharray="3,2.2"/>
<circle cx="126.97" cy="707.19" r="2.80" fill="#fff" stroke="#f8ac5e" stroke-width="0.90"/>
<circle cx="158.94" cy="707.68" r="2.80" fill="#fff" stroke="#f8ac5e" stroke-width="0.90"/>
<circle cx="190.91" cy="708.00" r="2.80" fill="#fff" stroke="#f8ac5e" stroke-width="0.90"/>
<circle cx="222.88" cy="708.33" r="2.80" fill="#fff" stroke="#f8ac5e" stroke-width="0.90"/>
<circle cx="254.85" cy="708.33" r="2.80" fill="#fff" stroke="#f8ac5e" stroke-width="0.90"/>
<circle cx="286.82" cy="705.57" r="2.80" fill="#fff" stroke="#f8ac5e" stroke-width="0.90"/>
<circle cx="318.79" cy="869.88" r="2.80" fill="#fff" stroke="#f8ac5e" stroke-width="0.90"/>
<circle cx="350.76" cy="796.96" r="2.80" fill="#fff" stroke="#f8ac5e" stroke-width="0.90"/>
<circle cx="382.73" cy="695.53" r="2.80" fill="#fff" stroke="#f8ac5e" stroke-width="0.90"/>
<circle cx="414.70" cy="693.74" r="2.80" fill="#fff" stroke="#f8ac5e" stroke-width="0.90"/>
<circle cx="446.67" cy="693.91" r="2.80" fill="#fff" stroke="#f8ac5e" stroke-width="0.90"/>
<circle cx="478.64" cy="693.26" r="2.80" fill="#fff" stroke="#f8ac5e" stroke-width="0.90"/>
<circle cx="510.61" cy="693.26" r="2.80" fill="#fff" stroke="#f8ac5e" stroke-width="0.90"/>
<circle cx="542.58" cy="691.80" r="2.80" fill="#fff" stroke="#f8ac5e" stroke-width="0.90"/>
<path d="M126.97,679.97 C132.30,679.97 148.28,679.81 158.94,679.97 C169.60,680.13 180.25,680.29 190.91,680.94 C201.57,681.59 212.22,682.54 222.88,683.86 C233.54,685.18 244.19,683.51 254.85,688.88 C265.51,694.26 276.16,697.98 286.82,716.11 C297.48,734.23 308.13,789.40 318.79,797.61 C329.45,805.82 340.10,782.00 350.76,765.37 C361.42,748.73 372.07,711.68 382.73,697.79 C393.39,683.91 404.04,685.29 414.70,682.08 C425.36,678.86 436.01,679.51 446.67,678.51 C457.33,677.51 467.98,676.62 478.64,676.08 C489.30,675.54 499.95,675.51 510.61,675.27 C521.27,675.03 537.25,674.73 542.58,674.62" fill="none" stroke="#ff6eff" stroke-width="0.90" stroke-dasharray="3,2.2"/>
<circle cx="126.97" cy="679.97" r="2.80" fill="#fff" stroke="#ff6eff" stroke-width="0.90"/>
<circle cx="158.94" cy="679.97" r="2.80" fill="#fff" stroke="#ff6eff" stroke-width="0.90"/>
<circle cx="190.91" cy="680.94" r="2.80" fill="#fff" stroke="#ff6eff" stroke-width="0.90"/>
<circle cx="222.88" cy="683.86" r="2.80" fill="#fff" stroke="#ff6eff" stroke-width="0.90"/>
<circle cx="254.85" cy="688.88" r="2.80" fill="#fff" stroke="#ff6eff" stroke-width="0.90"/>
<circle cx="286.82" cy="716.11" r="2.80" fill="#fff" stroke="#ff6eff" stroke-width="0.90"/>
<circle cx="318.79" cy="797.61" r="2.80" fill="#fff" stroke="#ff6eff" stroke-width="0.90"/>
<circle cx="350.76" cy="765.37" r="2.80" fill="#fff" stroke="#ff6eff" stroke-width="0.90"/>
<circle cx="382.73" cy="697.79" r="2.80" fill="#fff" stroke="#ff6eff" stroke-width="0.90"/>
<circle cx="414.70" cy="682.08" r="2.80" fill="#fff" stroke="#ff6eff" stroke-width="0.90"/>
<circle cx="446.67" cy="678.51" r="2.80" fill="#fff" stroke="#ff6eff" stroke-width="0.90"/>
<circle cx="478.64" cy="676.08" r="2.80" fill="#fff" stroke="#ff6eff" stroke-width="0.90"/>
<circle cx="510.61" cy="675.27" r="2.80" fill="#fff" stroke="#ff6eff" stroke-width="0.90"/>
<circle cx="542.58" cy="674.62" r="2.80" fill="#fff" stroke="#ff6eff" stroke-width="0.90"/>
<path d="M126.97,634.92 C132.30,634.92 148.28,634.92 158.94,634.92 C169.60,634.92 180.25,635.11 190.91,634.92 C201.57,634.73 212.22,634.33 222.88,633.79 C233.54,633.25 244.19,631.14 254.85,631.68 C265.51,632.22 276.16,625.74 286.82,637.03 C297.48,648.32 308.13,653.85 318.79,699.42 C329.45,744.98 340.10,871.02 350.76,910.39 C361.42,949.77 372.07,931.86 382.73,935.67 C393.39,939.48 409.37,933.64 414.70,933.24" fill="none" stroke="#6464dc" stroke-width="0.90" stroke-dasharray="3,2.2"/>
<circle cx="126.97" cy="634.92" r="2.80" fill="#fff" stroke="#6464dc" stroke-width="0.90"/>
<circle cx="158.94" cy="634.92" r="2.80" fill="#fff" stroke="#6464dc" stroke-width="0.90"/>
<circle cx="190.91" cy="634.92" r="2.80" fill="#fff" stroke="#6464dc" stroke-width="0.90"/>
<circle cx="222.88" cy="633.79" r="2.80" fill="#fff" stroke="#6464dc" stroke-width="0.90"/>
<circle cx="254.85" cy="631.68" r="2.80" fill="#fff" stroke="#6464dc" stroke-width="0.90"/>
<circle cx="286.82" cy="637.03" r="2.80" fill="#fff" stroke="#6464dc" stroke-width="0.90"/>
<circle cx="318.79" cy="699.42" r="2.80" fill="#fff" stroke="#6464dc" stroke-width="0.90"/>
<circle cx="350.76" cy="910.39" r="2.80" fill="#fff" stroke="#6464dc" stroke-width="0.90"/>
<circle cx="382.73" cy="935.67" r="2.80" fill="#fff" stroke="#6464dc" stroke-width="0.90"/>
<circle cx="414.70" cy="933.24" r="2.80" fill="#fff" stroke="#6464dc" stroke-width="0.90"/>
<line x1="72.70" y1="850.50" x2="103.00" y2="850.50" stroke="#f8ac5e" stroke-width="1.00"/>
<circle cx="87.90" cy="850.50" r="2.90" fill="#f5800f"/>
<line x1="72.70" y1="866.50" x2="103.00" y2="866.50" stroke="#f8ac5e" stroke-width="1" stroke-dasharray="2.2,3"/>
<rect x="85.40" y="864.00" width="5.00" height="5.00" fill="#fff" stroke="#f8ac5e" stroke-width="0.80"/>
<text x="107.40" y="853.80" font-size="9.50">Δ<tspan font-style="italic">E</tspan></text>
<text x="120.00" y="851.30" font-size="7.20">Rel,Solv</text>
<text x="107.40" y="870.20" font-size="9.50">Δ<tspan font-style="italic">E</tspan></text>
<text x="120.00" y="867.70" font-size="7.20">Rel,H-bond/CP</text>
<path d="M172.10,848.50 L175.10,849.50 V864.70 L172.50,865.70 M175.10,857.10 H177.10" fill="none" stroke="#aaa" stroke-width="0.9"/>
<text x="178.70" y="860.70" font-size="9.90">CC-[1]</text>
<text x="207.05" y="857.30" font-size="7.20">2+</text>
<path d="M215.11,857.20 H224.31 M222.11,855.70 L224.31,857.20 L222.11,858.70" fill="none" stroke="#1a1a1a" stroke-width="0.75"/>
<text x="224.71" y="860.70" font-size="9.90">CC-[2]</text>
<text x="253.05" y="857.30" font-size="7.20">2+,‡</text>
<path d="M266.51,857.20 H275.71 M273.51,855.70 L275.71,857.20 L273.51,858.70" fill="none" stroke="#1a1a1a" stroke-width="0.75"/>
<text x="276.11" y="860.70" font-size="9.90">CC-[3]</text>
<text x="304.46" y="857.30" font-size="7.20">+</text>
<line x1="72.70" y1="883.50" x2="103.00" y2="883.50" stroke="#ff6eff" stroke-width="1.00"/>
<circle cx="87.90" cy="883.50" r="2.90" fill="#ff00ff"/>
<line x1="72.70" y1="899.50" x2="103.00" y2="899.50" stroke="#ff6eff" stroke-width="1" stroke-dasharray="2.2,3"/>
<rect x="85.40" y="897.00" width="5.00" height="5.00" fill="#fff" stroke="#ff6eff" stroke-width="0.80"/>
<text x="107.40" y="886.80" font-size="9.50">Δ<tspan font-style="italic">E</tspan></text>
<text x="120.00" y="884.30" font-size="7.20">Rel,Solv</text>
<text x="107.40" y="903.20" font-size="9.50">Δ<tspan font-style="italic">E</tspan></text>
<text x="120.00" y="900.70" font-size="7.20">Rel,H-bond/CP</text>
<path d="M172.10,881.50 L175.10,882.50 V897.70 L172.50,898.70 M175.10,890.10 H177.10" fill="none" stroke="#aaa" stroke-width="0.9"/>
<text x="178.70" y="893.70" font-size="9.90">CC-[1]</text>
<text x="207.05" y="890.30" font-size="7.20">+</text>
<path d="M211.51,890.20 H220.71 M218.51,888.70 L220.71,890.20 L218.51,891.70" fill="none" stroke="#1a1a1a" stroke-width="0.75"/>
<text x="221.11" y="893.70" font-size="9.90">CC-[2]</text>
<text x="249.45" y="890.30" font-size="7.20">+,‡</text>
<path d="M259.31,890.20 H268.51 M266.31,888.70 L268.51,890.20 L266.31,891.70" fill="none" stroke="#1a1a1a" stroke-width="0.75"/>
<text x="268.91" y="893.70" font-size="9.90">CC-[3]</text>
<text x="297.26" y="890.30" font-size="7.20">+</text>
<line x1="72.70" y1="916.50" x2="103.00" y2="916.50" stroke="#6464dc" stroke-width="1.00"/>
<circle cx="87.90" cy="916.50" r="2.90" fill="#0808c8"/>
<line x1="72.70" y1="932.50" x2="103.00" y2="932.50" stroke="#6464dc" stroke-width="1" stroke-dasharray="2.2,3"/>
<rect x="85.40" y="930.00" width="5.00" height="5.00" fill="#fff" stroke="#6464dc" stroke-width="0.80"/>
<text x="107.40" y="919.80" font-size="9.50">Δ<tspan font-style="italic">E</tspan></text>
<text x="120.00" y="917.30" font-size="7.20">Rel,Solv</text>
<text x="107.40" y="936.20" font-size="9.50">Δ<tspan font-style="italic">E</tspan></text>
<text x="120.00" y="933.70" font-size="7.20">Rel,H-bond/CP</text>
<path d="M172.10,914.50 L175.10,915.50 V930.70 L172.50,931.70 M175.10,923.10 H177.10" fill="none" stroke="#aaa" stroke-width="0.9"/>
<text x="178.70" y="926.70" font-size="9.90">CC-[1]</text>
<text x="207.05" y="923.30" font-size="7.20">0</text>
<path d="M211.05,923.20 H220.25 M218.05,921.70 L220.25,923.20 L218.05,924.70" fill="none" stroke="#1a1a1a" stroke-width="0.75"/>
<text x="220.65" y="926.70" font-size="9.90">CC-[2]</text>
<text x="248.99" y="923.30" font-size="7.20">0,‡</text>
<path d="M258.39,923.20 H267.59 M265.39,921.70 L267.59,923.20 L265.39,924.70" fill="none" stroke="#1a1a1a" stroke-width="0.75"/>
<text x="267.99" y="926.70" font-size="9.90">CC-[3]</text>
<text x="296.34" y="923.30" font-size="7.20">0</text>
<text class="b" transform="translate(17.70,806.40) rotate(-90)" x="0" y="0" font-size="13.50">Δ<tspan font-style="italic">E</tspan><tspan font-size="9.50" dx="0.00" dy="-4.80">Rel,Solv</tspan><tspan dx="3.00" dy="4.80">(kJ mol</tspan><tspan font-size="9.50" dy="-4.80">−1</tspan><tspan dy="4.80">)</tspan></text>
<text class="b" x="262.00" y="547.50" font-size="11.70">CC-[2]2<tspan font-size="7.60" dy="-3.16">+,‡</tspan></text>
<text class="b" x="318.90" y="603.90" font-size="11.30">CC-[2]<tspan font-size="7.35" dy="-3.05">+,‡</tspan></text>
<text class="b" x="359.80" y="796.40" font-size="11.60">CC-[2]<tspan font-size="7.54" dy="-3.13">0,‡</tspan></text>
<text class="b" transform="translate(665.50,811.30) rotate(-90)" x="0" y="0" font-size="13.50">Δ<tspan font-style="italic">E</tspan><tspan font-size="9.50" dx="0.00" dy="-4.50">H-bond/CP</tspan><tspan dx="3.00" dy="4.50">(kJ mol</tspan><tspan font-size="9.50" dy="-4.50">−1</tspan><tspan dy="4.50">)</tspan></text>
</svg></body></html>
